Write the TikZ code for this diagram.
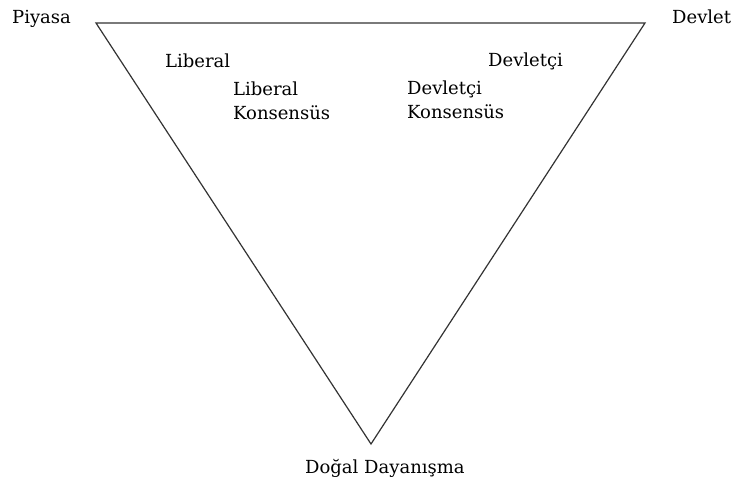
\documentclass[tikz,border=0pt]{standalone}
\usepackage{fontspec}
\setmainfont{DejaVu Serif}
\begin{document}
\begin{tikzpicture}[x=1pt,y=-1pt,
  lbl/.style={anchor=base west,inner sep=0pt,font=\fontsize{18}{24}\selectfont,text=black},
  edge/.style={draw=black!80,line width=1.2pt,line join=miter}]
\useasboundingbox[fill=white] (0,0) rectangle (739,484);
\coordinate (A) at (96,23);
\coordinate (B) at (645,23);
\coordinate (C) at (371,444);
\draw[edge] (A) -- (B) -- (C) -- cycle;
\node[lbl] (piy) at (12,24) {Piyasa};
\node[lbl] (dev) at (672,24) {Devlet};
\node[lbl] (lib) at (165,68) {Liberal};
\node[lbl] (libk1) at (233,96) {Liberal};
\node[lbl] (libk2) at (233,120) {Konsensüs};
\node[lbl] (dvc) at (488,67) {Devletçi};
\node[lbl] (dvk1) at (407,95) {Devletçi};
\node[lbl] (dvk2) at (407,119) {Konsensüs};
\node[lbl] (dog) at (305,473) {Doğal Dayanışma};
\end{tikzpicture}
\end{document}
